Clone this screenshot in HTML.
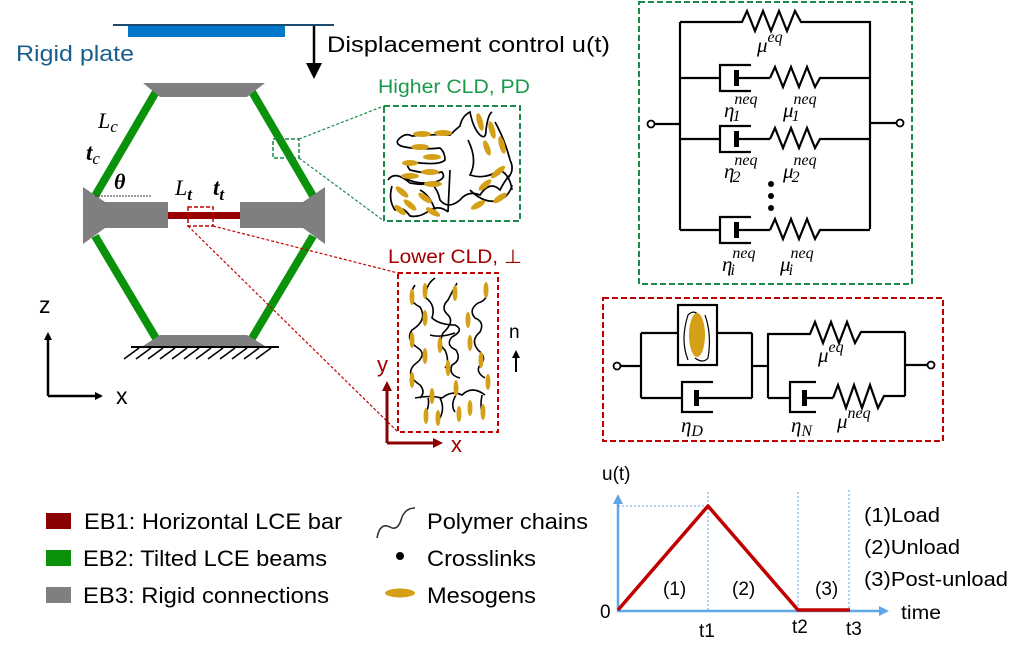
<!DOCTYPE html>
<html><head><meta charset="utf-8"><style>
html,body{margin:0;padding:0;background:#fff;}
svg{display:block;}
text{font-family:"Liberation Sans",sans-serif;}
text.serif{font-family:"Liberation Serif",serif;font-style:italic;}
</style></head><body>
<svg width="1026" height="655" viewBox="0 0 1026 655" xmlns="http://www.w3.org/2000/svg">
<defs>
<marker id="ab" markerWidth="8" markerHeight="8" refX="6" refY="4" orient="auto" markerUnits="userSpaceOnUse"><path d="M0,0 L8,4 L0,8 Z" fill="#000"/></marker>
<marker id="ar" markerWidth="10" markerHeight="10" refX="7" refY="5" orient="auto" markerUnits="userSpaceOnUse"><path d="M0,0 L10,5 L0,10 Z" fill="#8b0000"/></marker>
<marker id="al" markerWidth="10" markerHeight="10" refX="7" refY="5" orient="auto" markerUnits="userSpaceOnUse"><path d="M0,0 L10,5 L0,10 Z" fill="#5fa8e8"/></marker>
</defs>

<!-- plate -->
<line x1="113" y1="25" x2="334" y2="25" stroke="#1a4a6e" stroke-width="2"/>
<rect x="128" y="26" width="157" height="11" fill="#0077c8"/>
<line x1="314" y1="26" x2="314" y2="66" stroke="#000" stroke-width="2.5"/>
<path d="M306,63 L322,63 L314,79 Z" fill="#000"/>
<text x="327" y="52" font-size="22" textLength="283" lengthAdjust="spacingAndGlyphs">Displacement control u(t)</text>
<text x="16" y="61" font-size="22" fill="#1a5e8e" textLength="118" lengthAdjust="spacingAndGlyphs">Rigid plate</text>

<!-- beams -->
<g stroke="#0a930a" stroke-width="8">
<line x1="157" y1="90" x2="95" y2="196"/>
<line x1="251" y1="90" x2="313" y2="196"/>
<line x1="95" y1="236" x2="157" y2="340"/>
<line x1="313" y1="236" x2="251" y2="340"/>
</g>
<g fill="#7f7f7f">
<polygon points="143,83 265,83 247,97 160,97"/>
<polygon points="160,335 247,335 265,346 143,346"/>
<polygon points="83,187 105,202 168,202 168,228 105,228 83,244"/>
<polygon points="240,202 303,202 325,187 325,244 303,228 240,228"/>
</g>
<rect x="168" y="212" width="72" height="7" fill="#990000"/>
<rect x="188" y="207" width="25" height="19" fill="none" stroke="#c00000" stroke-width="1.5" stroke-dasharray="4,2"/>
<line x1="95" y1="196" x2="152" y2="196" stroke="#333" stroke-width="1" stroke-dasharray="2,1"/>
<line x1="131" y1="347" x2="279" y2="347" stroke="#000" stroke-width="2"/>
<g stroke="#000" stroke-width="1.6">
<line x1="139" y1="348" x2="124" y2="359"/><line x1="151" y1="348" x2="136" y2="359"/><line x1="163" y1="348" x2="148" y2="359"/><line x1="175" y1="348" x2="160" y2="359"/><line x1="187" y1="348" x2="172" y2="359"/><line x1="199" y1="348" x2="184" y2="359"/><line x1="211" y1="348" x2="196" y2="359"/><line x1="223" y1="348" x2="208" y2="359"/><line x1="235" y1="348" x2="220" y2="359"/><line x1="247" y1="348" x2="232" y2="359"/><line x1="259" y1="348" x2="244" y2="359"/><line x1="271" y1="348" x2="256" y2="359"/>
</g>
<text x="98" y="128" font-size="22" class="serif">L<tspan font-size="17" dy="4">c</tspan></text>
<text x="86" y="160" font-size="23" class="serif" font-weight="bold">t<tspan font-size="17" dy="4" font-weight="normal">c</tspan></text>
<text x="114" y="189" font-size="22" class="serif" font-weight="bold">θ</text>
<text x="175" y="195" font-size="22" class="serif">L<tspan font-size="17" dy="5" font-weight="bold">t</tspan></text>
<text x="213" y="195" font-size="23" class="serif" font-weight="bold">t<tspan font-size="17" dy="5">t</tspan></text>

<!-- green zoom -->
<rect x="273" y="139" width="26" height="19" fill="none" stroke="#1a8a4a" stroke-width="1.5" stroke-dasharray="4,2"/>
<line x1="299" y1="139" x2="384" y2="106" stroke="#1a8a4a" stroke-width="1.2" stroke-dasharray="3,2"/>
<line x1="299" y1="158" x2="384" y2="221" stroke="#1a8a4a" stroke-width="1.2" stroke-dasharray="3,2"/>
<rect x="384" y="106" width="136" height="115" fill="none" stroke="#1a8a4a" stroke-width="2" stroke-dasharray="6,3"/>
<text x="378" y="93" font-size="19" fill="#1a9a4a" textLength="152" lengthAdjust="spacingAndGlyphs">Higher CLD, PD</text>
<g fill="none" stroke="#000" stroke-width="1.7">
<path d="M398,140 Q405,132 412,136 Q430,134 450,135 Q455,130 460,126 Q462,116 470,112 Q473,128 480,135 Q486,140 486,130 Q488,114 492,112"/>
<path d="M398,140 Q395,145 405,147 Q420,150 440,148 Q445,152 445,160 Q440,165 420,163 Q402,160 410,170 Q430,175 442,172 Q448,180 430,183 Q415,184 405,178"/>
<path d="M388,180 Q395,170 410,183 Q420,185 432,184 Q438,190 440,200 Q448,210 460,200 Q468,190 480,195 Q490,180 500,190 Q505,180 510,175"/>
<path d="M392,186 Q388,200 395,210 Q402,205 410,216 Q420,218 430,210 Q440,205 448,212"/>
<path d="M420,190 Q430,195 435,210 M448,212 L450,170 M468,140 Q478,160 470,175 Q485,180 500,170 Q510,175 512,190"/>
<path d="M495,122 Q505,140 510,160 Q515,170 508,178"/>
<path d="M470,190 Q485,205 500,200 Q510,195 512,185"/>
</g>
<g fill="#d4a017">
<ellipse cx="422" cy="134" rx="9" ry="3"/><ellipse cx="443" cy="133" rx="9" ry="3"/>
<ellipse cx="420" cy="147" rx="9" ry="3"/><ellipse cx="432" cy="157" rx="9" ry="3"/>
<ellipse cx="410" cy="163" rx="8" ry="3"/><ellipse cx="410" cy="176" rx="9" ry="3"/><ellipse cx="430" cy="172" rx="9" ry="3"/>
<ellipse cx="433" cy="184" rx="9" ry="3"/>
<ellipse cx="402" cy="192" rx="8" ry="3" transform="rotate(40 402 192)"/><ellipse cx="410" cy="205" rx="8" ry="3" transform="rotate(40 410 205)"/>
<ellipse cx="425" cy="198" rx="8" ry="3" transform="rotate(35 425 198)"/><ellipse cx="433" cy="212" rx="8" ry="3" transform="rotate(30 433 212)"/>
<ellipse cx="480" cy="122" rx="3" ry="9" transform="rotate(-15 480 122)"/><ellipse cx="492" cy="130" rx="3" ry="9" transform="rotate(-15 492 130)"/>
<ellipse cx="502" cy="145" rx="3" ry="9" transform="rotate(-15 502 145)"/><ellipse cx="487" cy="148" rx="3" ry="8" transform="rotate(-20 487 148)"/>
<ellipse cx="498" cy="172" rx="9" ry="3" transform="rotate(-40 498 172)"/><ellipse cx="485" cy="185" rx="8" ry="3" transform="rotate(-40 485 185)"/>
<ellipse cx="500" cy="198" rx="8" ry="3" transform="rotate(-35 500 198)"/><ellipse cx="478" cy="205" rx="8" ry="3" transform="rotate(-30 478 205)"/>
<ellipse cx="400" cy="210" rx="7" ry="3" transform="rotate(40 400 210)"/>
</g>

<!-- red zoom -->
<line x1="213" y1="226" x2="398" y2="273" stroke="#c00000" stroke-width="1.2" stroke-dasharray="3,2"/>
<line x1="188" y1="226" x2="398" y2="432" stroke="#c00000" stroke-width="1.2" stroke-dasharray="3,2"/>
<text x="388" y="263" font-size="19" fill="#a00000" textLength="134" lengthAdjust="spacingAndGlyphs">Lower CLD, ⊥</text>
<rect x="398" y="273" width="100" height="159" fill="none" stroke="#c00000" stroke-width="2" stroke-dasharray="5,3"/>
<g fill="none" stroke="#000" stroke-width="1.6">
<path d="M415,285 Q405,300 420,307 Q428,320 412,330 Q405,340 418,348 Q428,355 414,365 Q405,375 420,385 Q426,392 420,398"/>
<path d="M435,278 Q425,285 426,298 Q436,305 432,318 Q440,325 455,325 Q465,330 452,337 Q445,345 456,350 Q462,360 452,365 Q448,375 460,378"/>
<path d="M457,283 Q452,292 448,300 Q440,308 448,315 Q455,322 443,333 Q438,345 445,350 Q450,362 445,368"/>
<path d="M486,292 Q488,300 478,303 Q468,310 475,318 Q485,322 480,332 Q470,340 478,350 Q488,358 480,365 Q475,372 485,378"/>
<path d="M430,335 Q440,338 455,333 M415,398 Q430,395 442,398 Q452,390 462,395 Q472,385 485,395 M428,398 Q430,405 425,415 M440,398 Q445,408 440,418 M456,395 Q450,405 455,412 M482,395 Q480,405 482,412"/>
</g>
<g fill="#d4a017">
<ellipse cx="412" cy="297" rx="2.5" ry="8"/><ellipse cx="425" cy="291" rx="2.5" ry="8"/><ellipse cx="455" cy="293" rx="2.5" ry="8"/><ellipse cx="486" cy="290" rx="2.5" ry="8"/>
<ellipse cx="425" cy="318" rx="2.5" ry="8"/><ellipse cx="468" cy="320" rx="2.5" ry="8"/><ellipse cx="412" cy="340" rx="2.5" ry="8"/>
<ellipse cx="440" cy="345" rx="2.5" ry="8"/><ellipse cx="470" cy="343" rx="2.5" ry="8"/><ellipse cx="425" cy="356" rx="2.5" ry="8"/>
<ellipse cx="448" cy="368" rx="2.5" ry="8"/><ellipse cx="481" cy="360" rx="2.5" ry="8"/><ellipse cx="412" cy="380" rx="2.5" ry="8"/>
<ellipse cx="456" cy="388" rx="2.5" ry="8"/><ellipse cx="488" cy="382" rx="2.5" ry="8"/><ellipse cx="432" cy="396" rx="2.5" ry="8"/>
<ellipse cx="426" cy="416" rx="2.5" ry="8"/><ellipse cx="438" cy="418" rx="2.5" ry="8"/><ellipse cx="459" cy="414" rx="2.5" ry="8"/><ellipse cx="470" cy="408" rx="2.5" ry="8"/><ellipse cx="483" cy="412" rx="2.5" ry="8"/>
</g>
<line x1="387" y1="443" x2="387" y2="384" stroke="#8b0000" stroke-width="3" marker-end="url(#ar)"/>
<line x1="387" y1="443" x2="440" y2="443" stroke="#8b0000" stroke-width="3" marker-end="url(#ar)"/>
<text x="377" y="372" font-size="22" fill="#a00000">y</text>
<text x="451" y="452" font-size="22" fill="#a00000">x</text>
<text x="509" y="338" font-size="19">n</text>
<line x1="516" y1="372" x2="516" y2="352" stroke="#000" stroke-width="2" marker-end="url(#ab)"/>

<!-- z-x axes -->
<line x1="48" y1="396" x2="48" y2="334" stroke="#000" stroke-width="2.5" marker-end="url(#ab)"/>
<line x1="48" y1="396" x2="101" y2="396" stroke="#000" stroke-width="2.5" marker-end="url(#ab)"/>
<text x="39" y="313" font-size="23">z</text>
<text x="116" y="404" font-size="23">x</text>

<!-- legend -->
<rect x="46" y="513" width="25" height="16" fill="#8b0000"/>
<rect x="46" y="550" width="25" height="16" fill="#0a930a"/>
<rect x="46" y="587" width="25" height="16" fill="#7f7f7f"/>
<text x="84" y="529" font-size="22" textLength="258" lengthAdjust="spacingAndGlyphs">EB1: Horizontal LCE bar</text>
<text x="83" y="566" font-size="22" textLength="244" lengthAdjust="spacingAndGlyphs">EB2: Tilted LCE beams</text>
<text x="83" y="603" font-size="22" textLength="246" lengthAdjust="spacingAndGlyphs">EB3: Rigid connections</text>
<path d="M377,538 Q380,522 390,527 Q398,532 402,517 Q406,508 415,508" fill="none" stroke="#333" stroke-width="1.6"/>
<circle cx="400" cy="556" r="4" fill="#000"/>
<ellipse cx="400" cy="593" rx="15" ry="4.5" fill="#d4a017"/>
<text x="427" y="529" font-size="22" textLength="161" lengthAdjust="spacingAndGlyphs">Polymer chains</text>
<text x="427" y="566" font-size="22" textLength="109" lengthAdjust="spacingAndGlyphs">Crosslinks</text>
<text x="427" y="603" font-size="22" textLength="109" lengthAdjust="spacingAndGlyphs">Mesogens</text>

<!-- green circuit -->
<rect x="639" y="2" width="273" height="282" fill="none" stroke="#1a8a4a" stroke-width="2" stroke-dasharray="6,3"/>
<g fill="none" stroke="#000" stroke-width="2.2">
<line x1="680" y1="22" x2="680" y2="230"/><line x1="870" y1="21" x2="870" y2="229"/>
<polyline points="680,22 742,22 747,11 755,31 763,11 771,31 779,11 787,31 795,11 801,22 870,22"/>
<line x1="655" y1="124" x2="680" y2="124"/><line x1="870" y1="123" x2="896" y2="123"/>
<circle cx="651" cy="124" r="3.5" stroke-width="1.8"/><circle cx="900" cy="123" r="3.5" stroke-width="1.8"/>
<g id="br">
<line x1="680" y1="78" x2="720" y2="78"/>
<polyline points="751,65 720,65 720,91 751,91"/>
<line x1="737" y1="78" x2="770" y2="78"/>
<polyline points="770,78 775,67 783,87 791,67 799,87 807,67 815,87 820,78 870,78"/>
</g>
<use href="#br" y="61"/>
<use href="#br" y="152"/>
</g>
<g fill="#000"><rect x="734" y="70" width="5" height="16"/><rect x="734" y="131" width="5" height="16"/><rect x="734" y="222" width="5" height="16"/>
<circle cx="771" cy="184" r="3"/><circle cx="771" cy="196" r="3"/><circle cx="771" cy="208" r="3"/></g>
<text class="serif" font-size="21" x="757" y="52">μ<tspan font-size="16" dy="-10">eq</tspan></text>
<text class="serif" font-size="21" x="724" y="117">η<tspan font-size="16" dy="-13">neq</tspan><tspan font-size="16" dx="-25" dy="17">1</tspan></text>
<text class="serif" font-size="21" x="783" y="117">μ<tspan font-size="16" dy="-13">neq</tspan><tspan font-size="16" dx="-25" dy="17">1</tspan></text>
<text class="serif" font-size="21" x="724" y="178">η<tspan font-size="16" dy="-13">neq</tspan><tspan font-size="16" dx="-25" dy="17">2</tspan></text>
<text class="serif" font-size="21" x="783" y="178">μ<tspan font-size="16" dy="-13">neq</tspan><tspan font-size="16" dx="-25" dy="17">2</tspan></text>
<text class="serif" font-size="21" x="722" y="271">η<tspan font-size="16" dy="-13">neq</tspan><tspan font-size="16" dx="-25" dy="17">i</tspan></text>
<text class="serif" font-size="21" x="780" y="271">μ<tspan font-size="16" dy="-13">neq</tspan><tspan font-size="16" dx="-25" dy="17">i</tspan></text>

<!-- red circuit -->
<rect x="603" y="298" width="340" height="143" fill="none" stroke="#c00000" stroke-width="2" stroke-dasharray="6,3"/>
<g fill="none" stroke="#000" stroke-width="2.2">
<circle cx="617" cy="366" r="3.5" stroke-width="1.8"/><line x1="621" y1="366" x2="641" y2="366"/>
<line x1="641" y1="333" x2="641" y2="398"/>
<line x1="641" y1="333" x2="678" y2="333"/><rect x="678" y="305" width="39" height="60"/><line x1="717" y1="333" x2="752" y2="333"/>
<line x1="641" y1="398" x2="682" y2="398"/><polyline points="713,382 682,382 682,412 713,412"/><line x1="697" y1="398" x2="752" y2="398"/>
<line x1="752" y1="333" x2="752" y2="398"/><line x1="752" y1="366" x2="768" y2="366"/>
<line x1="768" y1="333" x2="768" y2="398"/>
<polyline points="768,334 810,334 815,322 823,343 831,322 839,343 847,322 855,343 861,332 905,332"/>
<line x1="768" y1="398" x2="790" y2="398"/><polyline points="816,382 790,382 790,412 816,412"/><line x1="805" y1="398" x2="833" y2="398"/>
<polyline points="833,398 838,385 846,408 854,385 862,408 870,385 878,408 884,396 905,396"/>
<line x1="905" y1="332" x2="905" y2="396"/><line x1="905" y1="365" x2="927" y2="365"/>
<circle cx="931" cy="365" r="3.5" stroke-width="1.8"/>
<path d="M688,360 Q680,340 688,315 Q695,308 700,318" stroke-width="1.2"/>
<path d="M705,315 Q712,335 708,358 Q703,364 695,358" stroke-width="1.2"/>
</g>
<ellipse cx="697" cy="335" rx="8" ry="22" fill="#d4a017"/>
<g fill="#000"><rect x="694" y="390" width="5" height="16"/><rect x="802" y="390" width="5" height="16"/></g>
<text class="serif" font-size="21" x="681" y="432">η<tspan font-size="16" dy="4">D</tspan></text>
<text class="serif" font-size="21" x="791" y="432">η<tspan font-size="16" dy="4">N</tspan></text>
<text class="serif" font-size="21" x="818" y="362">μ<tspan font-size="16" dy="-10">eq</tspan></text>
<text class="serif" font-size="21" x="837" y="428">μ<tspan font-size="16" dy="-10">neq</tspan></text>

<!-- graph -->
<g stroke="#5fa8e8" stroke-width="1" stroke-dasharray="2,2" fill="none">
<line x1="708" y1="492" x2="708" y2="610"/><line x1="798" y1="492" x2="798" y2="610"/><line x1="849" y1="490" x2="849" y2="610"/>
<line x1="618" y1="506" x2="708" y2="506"/>
</g>
<line x1="618" y1="611" x2="618" y2="497" stroke="#5fa8e8" stroke-width="2.5" marker-end="url(#al)"/>
<line x1="617" y1="611" x2="886" y2="611" stroke="#5fa8e8" stroke-width="2.5" marker-end="url(#al)"/>
<polyline points="618,610 708,506 798,610 850,610" fill="none" stroke="#c00000" stroke-width="3.5" stroke-linejoin="round"/>
<g font-size="19">
<text x="602" y="480">u(t)</text>
<text x="600" y="618">0</text>
<text x="699" y="637">t1</text>
<text x="792" y="633">t2</text>
<text x="846" y="635">t3</text>
<text x="901" y="619" textLength="40" lengthAdjust="spacingAndGlyphs">time</text>
<text x="663" y="595">(1)</text>
<text x="732" y="595">(2)</text>
<text x="815" y="595">(3)</text>
<text x="864" y="522" font-size="20" textLength="76" lengthAdjust="spacingAndGlyphs">(1)Load</text>
<text x="864" y="554" font-size="20" textLength="96" lengthAdjust="spacingAndGlyphs">(2)Unload</text>
<text x="864" y="586" font-size="20" textLength="144" lengthAdjust="spacingAndGlyphs">(3)Post-unload</text>
</g>
</svg>
</body></html>
